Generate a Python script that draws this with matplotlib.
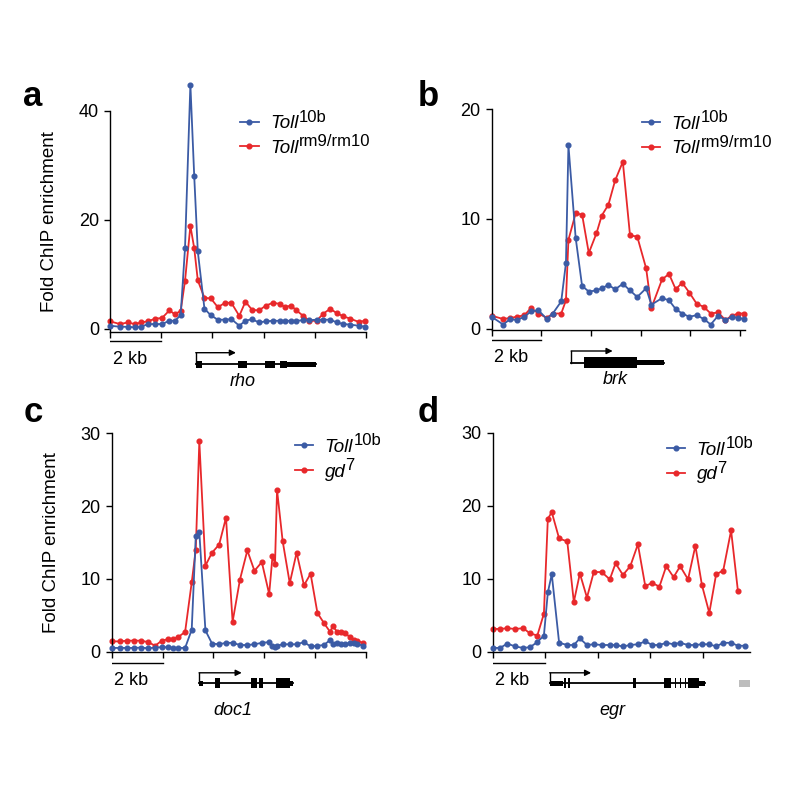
"""Four-panel ChIP enrichment profiles around rho, brk, doc1 and egr."""

from __future__ import annotations

import matplotlib

matplotlib.use("Agg")
from matplotlib import pyplot as plt
from matplotlib.patches import Rectangle

plt.rcParams["font.family"] = ["Liberation Sans", "DejaVu Sans"]

BLUE = "#3b5ba5"
RED = "#e8282b"

# legend labels: (italic name, superscript allele)
TOLL10B = ("Toll", "10b")
TOLLRM = ("Toll", "rm9/rm10")
GD7 = ("gd", "7")

# --- panel a: rho ---------------------------------------------------------
rho_kb = [0.00, 0.39, 0.70, 0.96, 1.22, 1.48, 1.77, 2.03, 2.32, 2.53,
          2.76, 2.93, 3.14, 3.29, 3.43, 3.69, 3.94, 4.21, 4.50, 4.74,
          5.05, 5.29, 5.55, 5.81, 6.10, 6.36, 6.63, 6.84, 7.07, 7.28,
          7.55, 7.78, 8.07, 8.33, 8.60, 8.86, 9.12, 9.38, 9.71, 9.97]
rho_toll10b = [0.6, 0.4, 0.4, 0.3, 0.4, 0.9, 0.9, 0.9, 1.5, 1.5,
               2.5, 14.8, 44.8, 28.0, 14.2, 3.7, 2.5, 1.7, 1.7, 1.8,
               0.6, 1.5, 1.8, 1.2, 1.4, 1.5, 1.5, 1.5, 1.5, 1.5,
               1.6, 1.6, 1.7, 1.7, 1.7, 1.2, 0.9, 0.8, 0.6, 0.4]
rho_tollrm = [1.4, 0.9, 1.2, 0.9, 1.2, 1.4, 1.9, 2.0, 3.4, 2.7,
              3.3, 8.8, 18.9, 14.8, 8.9, 5.7, 5.6, 4.0, 4.8, 4.8,
              2.4, 5.0, 3.5, 3.4, 4.3, 4.8, 4.6, 4.0, 4.3, 3.4,
              2.4, 1.5, 1.5, 2.8, 3.7, 2.9, 2.3, 1.9, 1.3, 1.5]

# --- panel b: brk ---------------------------------------------------------
brk_kb = [0.00, 0.46, 0.75, 1.01, 1.32, 1.58, 1.88, 2.22, 2.46, 2.80,
          2.99, 3.09, 3.38, 3.64, 3.91, 4.22, 4.43, 4.70, 4.97, 5.28,
          5.57, 5.86, 6.22, 6.43, 6.86, 7.14, 7.41, 7.67, 7.96, 8.25,
          8.54, 8.82, 9.12, 9.41, 9.67, 9.93, 10.17]
brk_toll10b = [1.1, 0.4, 0.9, 0.8, 1.1, 1.6, 1.7, 0.9, 1.4, 2.5,
               6.0, 16.7, 8.3, 3.9, 3.4, 3.5, 3.7, 4.0, 3.6, 4.1,
               3.5, 2.9, 3.7, 2.2, 2.8, 2.6, 1.8, 1.4, 1.1, 1.25,
               0.9, 0.4, 1.2, 0.8, 1.1, 1.0, 0.9]
brk_tollrm = [1.2, 0.9, 1.0, 1.1, 1.25, 1.9, 1.4, 1.0, 1.4, 1.4,
              2.6, 8.1, 10.5, 10.4, 6.9, 8.7, 10.3, 11.3, 13.5, 15.2,
              8.5, 8.4, 5.5, 1.9, 4.5, 5.0, 3.6, 4.2, 3.3, 2.3,
              2.0, 1.4, 1.5, 0.8, 1.2, 1.4, 1.4]

# --- panel c: doc1 --------------------------------------------------------
doc1_kb = [0.00, 0.33, 0.62, 0.88, 1.14, 1.44, 1.71, 1.97, 2.23, 2.40,
           2.62, 2.89, 3.15, 3.31, 3.45, 3.69, 3.95, 4.23, 4.50, 4.76,
           5.05, 5.34, 5.62, 5.91, 6.20, 6.33, 6.43, 6.51, 6.73, 7.01,
           7.28, 7.57, 7.83, 8.10, 8.36, 8.60, 8.70, 8.88, 9.02, 9.19,
           9.38, 9.54, 9.67, 9.88]
doc1_toll10b = [0.5, 0.5, 0.5, 0.5, 0.55, 0.45, 0.55, 0.6, 0.6, 0.5,
                0.5, 0.5, 3.0, 15.9, 16.4, 2.9, 1.1, 1.0, 1.2, 1.2,
                0.9, 0.9, 1.0, 1.2, 1.3, 0.8, 0.6, 0.8, 1.0, 1.0,
                1.0, 1.3, 0.7, 0.8, 0.9, 1.6, 1.0, 1.2, 1.0, 1.0,
                1.2, 1.2, 1.1, 0.8]
doc1_gd7 = [1.4, 1.4, 1.5, 1.5, 1.5, 1.3, 0.8, 1.5, 1.7, 1.7,
            2.0, 2.7, 9.5, 14.0, 28.9, 11.8, 13.6, 14.7, 18.4, 4.1,
            9.9, 13.9, 11.1, 12.3, 7.9, 13.1, 12.1, 22.2, 15.2, 9.4,
            13.6, 9.1, 10.7, 5.3, 3.9, 2.7, 3.5, 2.7, 2.7, 2.5,
            2.0, 1.6, 1.5, 1.2]

# --- panel d: egr ---------------------------------------------------------
egr_kb = [0.00, 0.28, 0.56, 0.85, 1.16, 1.42, 1.70, 1.95, 2.10, 2.25,
          2.53, 2.84, 3.09, 3.32, 3.59, 3.85, 4.15, 4.46, 4.68, 4.96,
          5.24, 5.53, 5.81, 6.08, 6.35, 6.61, 6.89, 7.14, 7.44, 7.72,
          7.97, 8.25, 8.51, 8.78, 9.08, 9.34, 9.62]
egr_toll10b = [0.5, 0.5, 1.1, 0.7, 0.5, 0.6, 1.3, 2.2, 8.1, 10.6,
               1.2, 0.9, 0.9, 1.8, 0.9, 1.0, 0.9, 0.9, 0.9, 0.7,
               0.9, 1.0, 1.4, 0.9, 0.9, 1.2, 1.0, 1.2, 0.9, 0.9,
               1.0, 1.0, 0.7, 1.2, 1.2, 0.8, 0.8]
egr_gd7 = [3.1, 3.1, 3.2, 3.1, 3.2, 2.5, 2.2, 5.2, 18.2, 19.1,
           15.5, 15.1, 6.8, 10.7, 7.4, 10.9, 10.9, 9.9, 12.1, 10.5,
           11.7, 14.7, 9.0, 9.4, 8.9, 11.7, 10.2, 11.7, 9.9, 14.5,
           9.1, 5.3, 10.6, 11.1, 16.6, 8.3]

# --- gene models (kb along the same axis) ---------------------------------
rho_tss, rho_arrow_end, rho_end = 3.35, 4.92, 8.04
rho_exons = [(3.35, 3.60), (5.01, 5.37), (6.07, 6.43), (6.63, 6.90)]
rho_utrs = [(6.90, 8.04)]

brk_tss, brk_arrow_end, brk_end = 3.20, 4.87, 6.93
brk_exons = [(3.73, 5.86)]
brk_utrs = [(5.86, 6.93)]

doc1_tss, doc1_arrow_end, doc1_end = 3.44, 5.12, 7.15
doc1_exons = [(4.07, 4.27), (5.47, 5.71), (5.81, 5.94), (6.47, 7.00)]
doc1_utrs = [(3.44, 3.61), (7.00, 7.15)]

egr_tss, egr_arrow_end, egr_end = 2.17, 3.75, 8.10
egr_exons = [(2.72, 2.80), (2.86, 2.95), (5.35, 5.45), (6.53, 6.78),
             (6.95, 6.99), (7.14, 7.18), (7.33, 7.37), (7.45, 7.85)]
egr_utrs = [(2.17, 2.67), (7.85, 8.10)]
egr_neighbour = (9.37, 9.81)

FIG_PX = 800


def _frac(left_px, top_px, right_px, bottom_px):
    """Pixel box -> figure fraction rect."""
    return [left_px / FIG_PX, 1 - bottom_px / FIG_PX,
            (right_px - left_px) / FIG_PX, (bottom_px - top_px) / FIG_PX]


def plot_profile(ax, kb, blue, red, red_label, ylim, yticks, xlim, legend_xy):
    ax.plot(kb[:len(blue)], blue, color=BLUE, marker="o", markersize=3.4,
            linewidth=1.3, label=TOLL10B[0], clip_on=False, zorder=3)
    ax.plot(kb[:len(red)], red, color=RED, marker="o", markersize=3.4,
            linewidth=1.3, label=red_label[0], clip_on=False, zorder=2)
    ax.set_xlim(*xlim)
    ax.set_ylim(*ylim)
    ax.set_yticks(yticks)
    ax.set_xticks(range(0, int(xlim[1]) + 1, 2))
    ax.tick_params(axis="x", direction="out", length=4, width=1,
                   labelbottom=False)
    ax.tick_params(axis="y", direction="out", length=4, width=1,
                   labelsize=13, pad=4)
    for side in ("top", "right"):
        ax.spines[side].set_visible(False)
    for side in ("left", "bottom"):
        ax.spines[side].set_linewidth(1)

    leg = ax.legend(loc="upper left", bbox_to_anchor=legend_xy,
                    frameon=False, fontsize=13.5, handlelength=1.0,
                    handletextpad=0.6, labelspacing=0.4, borderaxespad=0,
                    borderpad=0)
    # near full-size superscripts, slightly raised
    for text, sup in zip(leg.get_texts(), (TOLL10B[1], red_label[1])):
        text.set_style("italic")
        nudge = -0.5 if len(sup) == 1 else 0.5
        ax.annotate(sup, xy=(1.0, 0.45), xycoords=text, xytext=(nudge, 0),
                    textcoords="offset points", fontsize=12, ha="left",
                    va="bottom", annotation_clip=False, zorder=6)


def draw_gene(gax, xlim, name, tss, arrow_end, gene_end, exons, utrs,
              rows, exon_h=9, neighbour=None):
    """Scale bar plus a gene model under a profile."""
    gax.set_xlim(*xlim)
    gax.set_ylim(65, 0)
    gax.axis("off")

    gax.plot([0, 2], [rows["bar"]] * 2, color="black", linewidth=1)
    gax.text(0.1, rows["kb"], "2 kb", fontsize=13, ha="left", va="center")

    line_y = rows["line"]
    gax.plot([tss, gene_end], [line_y] * 2, color="black", linewidth=1.3)
    gax.plot([tss, tss], [line_y, rows["arrow"]], color="black", linewidth=1)
    gax.annotate("", xy=(arrow_end, rows["arrow"]),
                 xytext=(tss, rows["arrow"]),
                 arrowprops=dict(arrowstyle="-|>", color="black", lw=1,
                                 shrinkA=0, shrinkB=0, mutation_scale=9))
    for start, end in exons:
        gax.add_patch(Rectangle((start, line_y - exon_h / 2), end - start,
                                exon_h, color="black", linewidth=0))
    for start, end in utrs:
        gax.add_patch(Rectangle((start, line_y - 2.5), end - start, 5,
                                color="black", linewidth=0))
    if neighbour is not None:
        gax.add_patch(Rectangle((neighbour[0], line_y - 3.5),
                                neighbour[1] - neighbour[0], 7,
                                color="#bdbdbd", linewidth=0, clip_on=False))

    gax.text(rows["name_x"], rows["label"], name, fontsize=13,
             style="italic", ha="center", va="center")


def main() -> None:
    fig = plt.figure(figsize=(8, 8), dpi=100)

    row1 = dict(bar=9.5, kb=28, line=32.5, arrow=21, label=50)
    row2 = dict(bar=11, kb=28.5, line=31, arrow=20.5, label=58)

    panels = [
        # letter, rect px, data, legend, gene
        ("a", (110, 110.7, 366, 331.7), rho_kb, rho_toll10b, rho_tollrm,
         TOLLRM, (-0.5, 40), [0, 20, 40], (0, 10), (0.508, 0.98),
         ("rho", rho_tss, rho_arrow_end, rho_end, rho_exons, rho_utrs,
          dict(row1, name_x=5.17), 7, None)),
        ("b", (491.7, 109, 745, 330), brk_kb, brk_toll10b, brk_tollrm,
         TOLLRM, (-0.1, 20), [0, 10, 20], (0, 10.2), (0.592, 0.97),
         ("brk", brk_tss, brk_arrow_end, brk_end, brk_exons, brk_utrs,
          dict(row1, name_x=4.99), 11, None)),
        ("c", (111.7, 433.3, 365.7, 652.3), doc1_kb, doc1_toll10b, doc1_gd7,
         GD7, (-0.1, 30), [0, 10, 20, 30], (0, 10), (0.72, 0.975),
         ("doc1", doc1_tss, doc1_arrow_end, doc1_end, doc1_exons, doc1_utrs,
          dict(row2, name_x=4.78), 10, None)),
        ("d", (492.7, 432.7, 750, 652.3), egr_kb, egr_toll10b, egr_gd7,
         GD7, (-0.1, 30), [0, 10, 20, 30], (0, 9.8), (0.676, 0.96),
         ("egr", egr_tss, egr_arrow_end, egr_end, egr_exons, egr_utrs,
          dict(row2, name_x=4.56), 10, egr_neighbour)),
    ]

    letter_pos = {"a": (33, 96), "b": (428, 96), "c": (33, 412),
                  "d": (428, 412)}

    for (letter, box, kb, blue, red, red_label, ylim, yticks, xlim,
         legend_xy, gene) in panels:
        left, top, right, bottom = box
        ax = fig.add_axes(_frac(left, top, right, bottom))
        plot_profile(ax, kb, blue, red, red_label, ylim, yticks, xlim,
                     legend_xy)
        if letter in ("a", "c"):
            ax.set_ylabel("Fold ChIP enrichment", fontsize=13.5)
            ax.yaxis.set_label_coords(-0.205, 0.5)

        gax = fig.add_axes(_frac(left, bottom, right, bottom + 65))
        name, tss, arrow_end, gene_end, exons, utrs, rows, exon_h, nb = gene
        draw_gene(gax, xlim, name, tss, arrow_end, gene_end, exons, utrs,
                  rows, exon_h=exon_h, neighbour=nb)

        lx, ly = letter_pos[letter]
        fig.text(lx / FIG_PX, 1 - ly / FIG_PX, letter, fontsize=25,
                 fontweight="bold", ha="center", va="center")

    fig.savefig("out.png", dpi=100)
    plt.close(fig)


if __name__ == "__main__":
    main()
